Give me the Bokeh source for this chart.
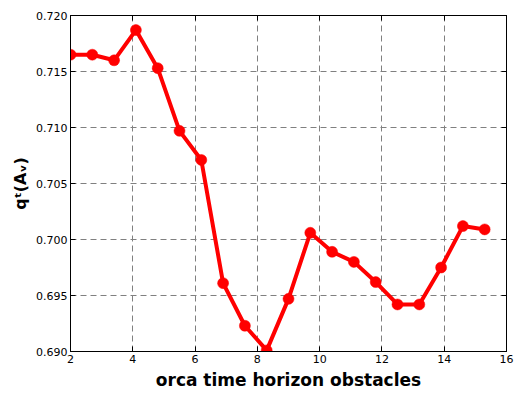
from bokeh.plotting import figure
from bokeh.models import LinearAxis, FixedTicker, NumeralTickFormatter, Range1d
from bokeh.embed import file_html
from bokeh.resources import INLINE

x_vals = [2.0, 2.7, 3.4, 4.1, 4.8, 5.5, 6.2, 6.9, 7.6, 8.3,
          9.0, 9.7, 10.4, 11.1, 11.8, 12.5, 13.2, 13.9, 14.6, 15.3]
y_vals = [0.7165, 0.7165, 0.7160, 0.7187, 0.7153, 0.7097, 0.7071, 0.6961, 0.6923, 0.6901,
          0.6947, 0.7006, 0.6989, 0.6980, 0.6962, 0.6942, 0.6942, 0.6975, 0.7012, 0.7009]
x_ticks = [2, 4, 6, 8, 10, 12, 14, 16]
y_ticks = [0.690, 0.695, 0.700, 0.705, 0.710, 0.715, 0.720]
x_label = "orca time horizon obstacles"
y_label = "qᵗ(Aᵥ)"

FONT = "DejaVu Sans"

p = figure(width=516, height=394, output_backend="svg", toolbar_location=None,
           x_range=Range1d(2, 16), y_range=Range1d(0.690, 0.720),
           min_border_left=70, min_border_right=10, min_border_top=15, min_border_bottom=43)
p.outline_line_color = "black"
p.outline_line_width = 1
p.background_fill_color = "white"
p.border_fill_color = "white"

for ax in [p.xaxis[0], p.yaxis[0]]:
    ax.major_tick_in = 5
    ax.major_tick_out = 0
    ax.minor_tick_line_color = None
    ax.axis_line_color = "black"
    ax.major_label_text_font = FONT
    ax.major_label_text_font_size = "11px"
    ax.major_label_text_color = "black"
    ax.axis_label_text_font = FONT
    ax.axis_label_text_font_style = "bold"
    ax.axis_label_text_color = "black"

p.xaxis[0].axis_label_text_font_size = "17px"
p.yaxis[0].axis_label_text_font_size = "16px"
p.xaxis[0].ticker = FixedTicker(ticks=x_ticks)
p.yaxis[0].ticker = FixedTicker(ticks=y_ticks)
p.yaxis[0].formatter = NumeralTickFormatter(format="0.000")
p.xaxis[0].axis_label = x_label
p.yaxis[0].axis_label = y_label
p.xaxis[0].major_label_standoff = 3
p.yaxis[0].major_label_standoff = 3
p.xaxis[0].axis_label_standoff = 4
p.yaxis[0].axis_label_standoff = 3

right = LinearAxis(ticker=FixedTicker(ticks=y_ticks),
                   major_label_overrides={t: "" for t in y_ticks},
                   major_tick_in=5, major_tick_out=0, minor_tick_line_color=None,
                   axis_line_color="black", major_label_standoff=0)
top = LinearAxis(ticker=FixedTicker(ticks=x_ticks),
                 major_label_overrides={t: "" for t in x_ticks},
                 major_tick_in=5, major_tick_out=0, minor_tick_line_color=None,
                 axis_line_color="black", major_label_standoff=0)
p.add_layout(right, "right")
p.add_layout(top, "above")

p.grid.grid_line_color = "#808080"
p.grid.grid_line_dash = "6 4"
p.grid.grid_line_width = 1
p.xgrid.ticker = FixedTicker(ticks=x_ticks)
p.ygrid.ticker = FixedTicker(ticks=y_ticks)

p.line(x_vals, y_vals, line_color="red", line_width=4)
p.scatter(x_vals, y_vals, size=11, fill_color="red", line_color="red", line_width=0.5)

open("out.html", "w").write(file_html(p, INLINE))
